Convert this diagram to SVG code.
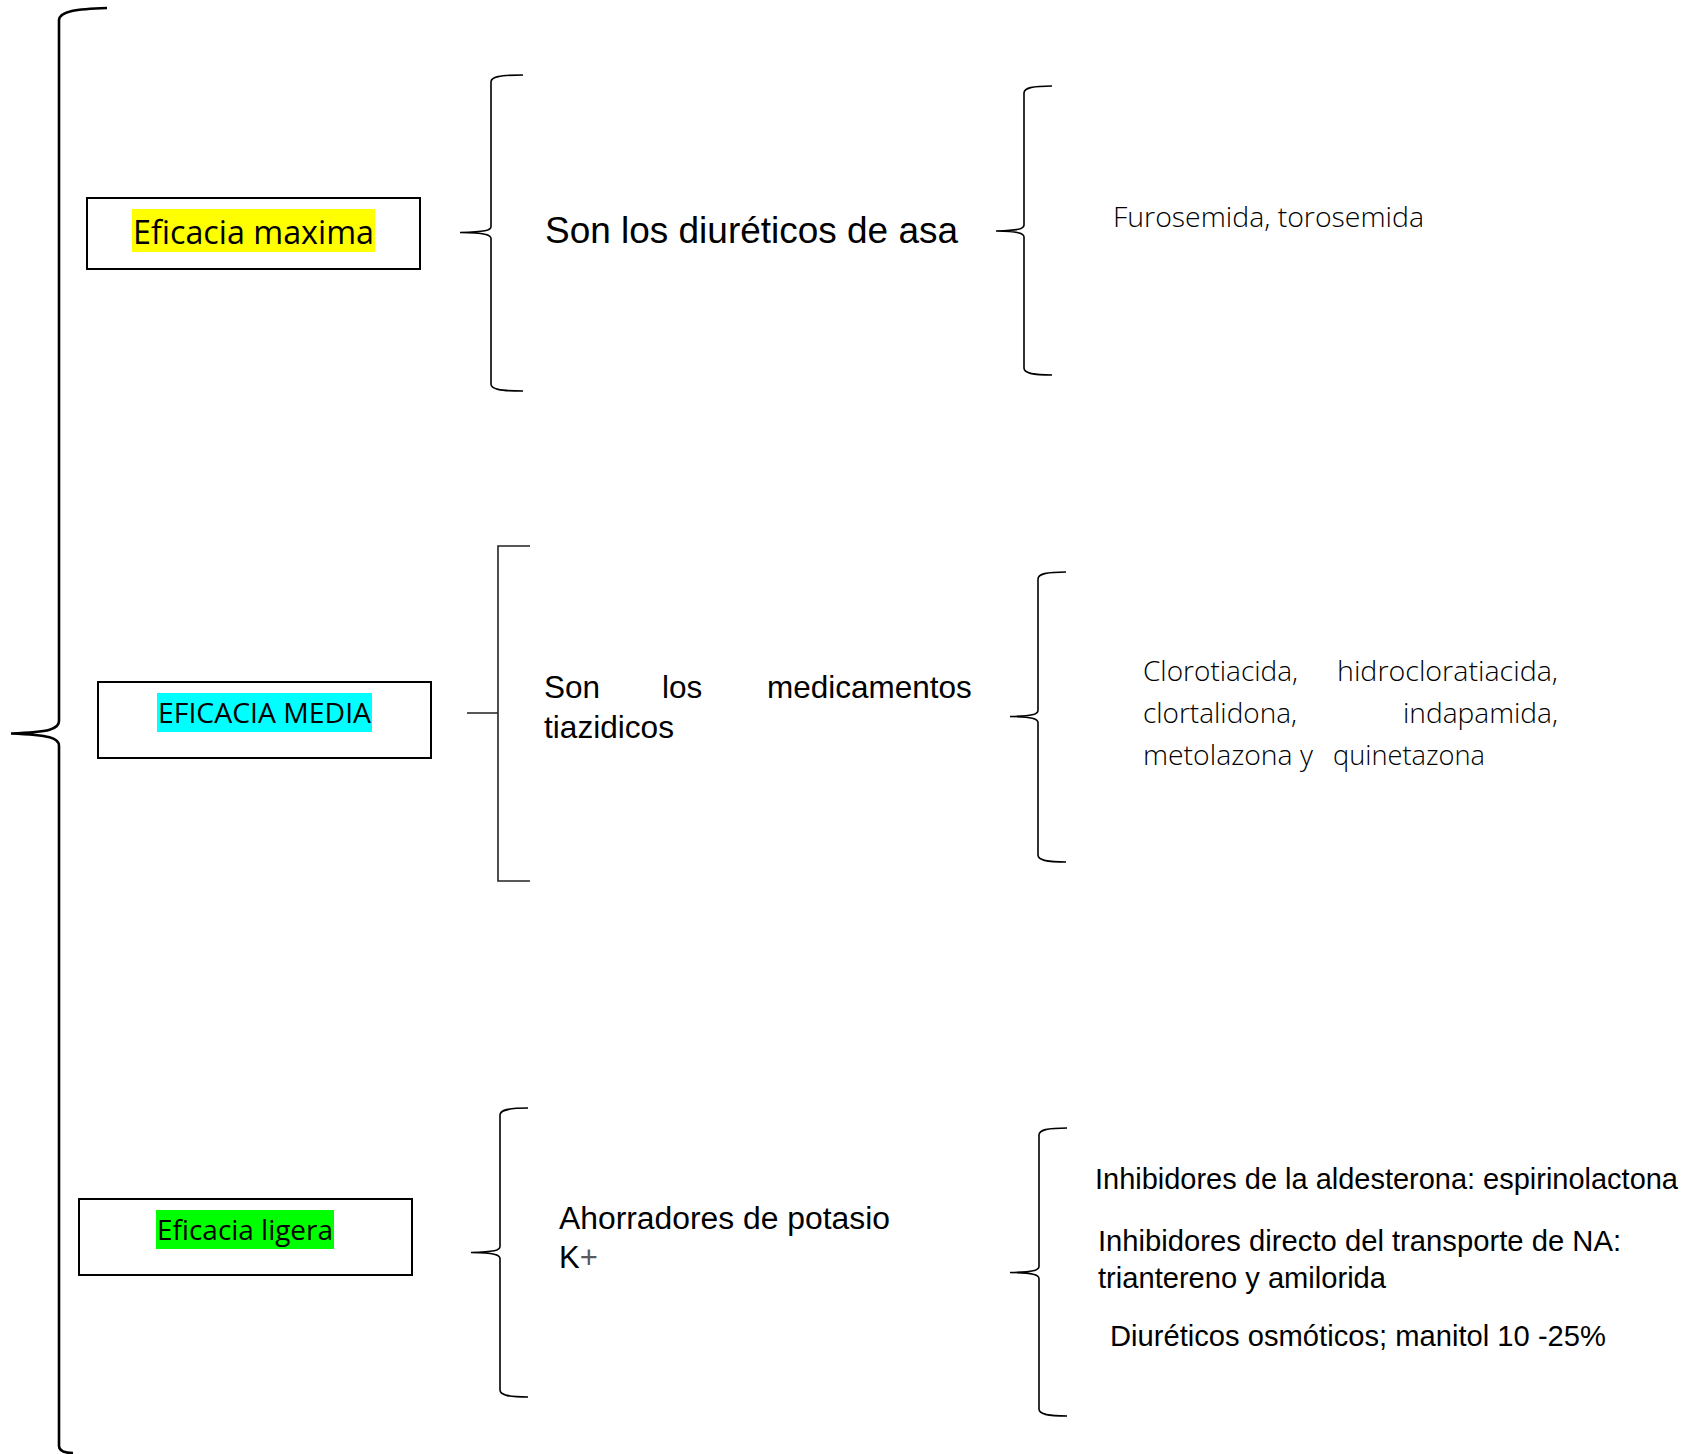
<svg xmlns="http://www.w3.org/2000/svg" width="1688" height="1454" viewBox="0 0 1688 1454">
<style>
.brace{fill:none;stroke:#000;stroke-width:1.6;stroke-linecap:butt}
.big{stroke-width:2.6}
.sq{stroke:#222}
.box{fill:#fff;stroke:#000;stroke-width:2}
.cal{font-family:"Open Sans","Noto Sans","Liberation Sans",sans-serif;fill:#000}
.lt{font-weight:300;font-size:28px}
.ari{font-family:"Liberation Sans",Arial,sans-serif;fill:#000}
</style>
<rect x="0" y="0" width="1688" height="1454" fill="#fff"/>
<g id="connectors">
<path class="brace big" d="M107 8 C76 9 60 11 59 20 L59 721 C59 729 50 732 11 733.5 C50 735 59 738 59 746 L59 1446 C59 1451 63 1453 73 1453"/>
<path class="brace" d="M523 75 C499 75 491 77 491 82 L491 226.5 C491 230.5 485 232 460 232.5 C485 233 491 234.5 491 238.5 L491 384 C491 389 499 391 523 391"/>
<path class="brace" d="M1052 86 C1032 86 1024 88 1024 93 L1024 225 C1024 229 1018 230.5 996 231 C1018 231.5 1024 233 1024 237 L1024 368 C1024 373 1032 375 1052 375"/>
<path class="brace sq" d="M530 546 H498 V881 H530 M467 713 H498"/>
<path class="brace" d="M1066 572 C1046 572 1038 574 1038 579 L1038 710.5 C1038 714.5 1032 716 1010 716.5 C1032 717 1038 718.5 1038 722.5 L1038 855 C1038 860 1046 862 1066 862"/>
<path class="brace" d="M528 1108 C508 1108 500 1110 500 1115 L500 1246.5 C500 1250.5 494 1252 471 1252.5 C494 1253 500 1254.5 500 1258.5 L500 1390 C500 1395 508 1397 528 1397"/>
<path class="brace" d="M1067 1128 C1047 1128 1039 1130 1039 1135 L1039 1266.5 C1039 1270.5 1033 1272 1010 1272.5 C1033 1273 1039 1274.5 1039 1278.5 L1039 1409 C1039 1414 1047 1416 1067 1416"/>
</g>
<g id="eficacia-maxima">
<rect class="box" x="87" y="198" width="333" height="71"/>
<rect x="132" y="209" width="243" height="43" fill="#ffff00"/>
<text class="cal" x="133" y="244" font-size="32" textLength="241" lengthAdjust="spacingAndGlyphs">Eficacia maxima</text>
</g>
<g id="diureticos-asa">
<text class="ari" x="545" y="243" font-size="37" textLength="413" lengthAdjust="spacingAndGlyphs">Son los diuréticos de asa</text>
</g>
<g id="furosemida">
<text class="cal lt" x="1113" y="227" textLength="311" lengthAdjust="spacingAndGlyphs">Furosemida, torosemida</text>
</g>
<g id="eficacia-media">
<rect class="box" x="98" y="682" width="333" height="76"/>
<rect x="157" y="693" width="215" height="39" fill="#00ffff"/>
<text class="cal" x="158" y="723" font-size="27" textLength="213" lengthAdjust="spacingAndGlyphs">EFICACIA MEDIA</text>
</g>
<g id="tiazidicos">
<text class="ari" y="698" font-size="31.5"><tspan x="544">Son</tspan><tspan x="662">los</tspan><tspan x="767">medicamentos</tspan></text>
<text class="ari" x="544" y="738" font-size="31.5" textLength="130" lengthAdjust="spacingAndGlyphs">tiazidicos</text>
</g>
<g id="clorotiacida">
<text class="cal lt" x="1143" y="681" textLength="155" lengthAdjust="spacingAndGlyphs">Clorotiacida,</text>
<text class="cal lt" x="1337" y="681" textLength="221" lengthAdjust="spacingAndGlyphs">hidrocloratiacida,</text>
<text class="cal lt" x="1143" y="723" textLength="154" lengthAdjust="spacingAndGlyphs">clortalidona,</text>
<text class="cal lt" x="1403" y="723" textLength="155" lengthAdjust="spacingAndGlyphs">indapamida,</text>
<text class="cal lt" x="1143" y="765" textLength="170" lengthAdjust="spacingAndGlyphs">metolazona y</text>
<text class="cal lt" x="1333" y="765" textLength="152" lengthAdjust="spacingAndGlyphs">quinetazona</text>
</g>
<g id="eficacia-ligera">
<rect class="box" x="79" y="1199" width="333" height="76"/>
<rect x="156" y="1210" width="178" height="39" fill="#00ff00"/>
<text class="cal" x="157" y="1240" font-size="27" textLength="176" lengthAdjust="spacingAndGlyphs">Eficacia ligera</text>
</g>
<g id="ahorradores">
<text class="ari" x="559" y="1229" font-size="31" textLength="331" lengthAdjust="spacingAndGlyphs">Ahorradores de potasio</text>
<text class="ari" x="559" y="1268" font-size="31">K<tspan fill="#595959">+</tspan></text>
</g>
<g id="inhibidores">
<text class="ari" x="1095" y="1189" font-size="29" textLength="583" lengthAdjust="spacingAndGlyphs">Inhibidores de la aldesterona: espirinolactona</text>
<text class="ari" x="1098" y="1251" font-size="30" textLength="523" lengthAdjust="spacingAndGlyphs">Inhibidores directo del transporte de NA:</text>
<text class="ari" x="1098" y="1288" font-size="30" textLength="288" lengthAdjust="spacingAndGlyphs">triantereno y amilorida</text>
<text class="ari" x="1110" y="1346" font-size="30" textLength="496" lengthAdjust="spacingAndGlyphs">Diuréticos osmóticos; manitol 10 -25%</text>
</g>
</svg>
